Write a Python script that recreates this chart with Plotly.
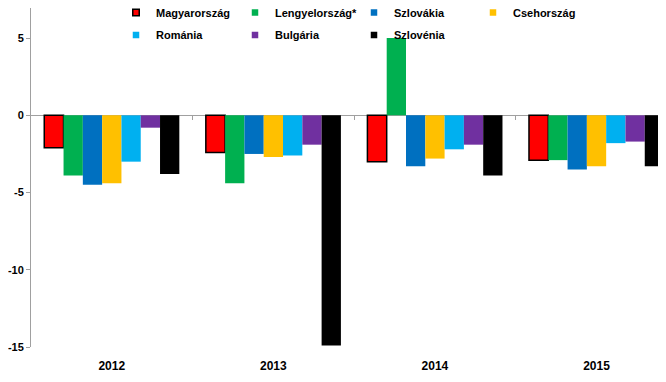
import plotly.graph_objects as go

years = ["2012", "2013", "2014", "2015"]
countries = ["Magyarország", "Lengyelország*", "Szlovákia", "Csehország",
             "Románia", "Bulgária", "Szlovénia"]
magyarorszag = [-2.1, -2.4, -3.0, -2.9]
lengyelorszag = [-3.9, -4.4, 5.0, -2.9]
szlovakia = [-4.5, -2.5, -3.3, -3.5]
csehorszag = [-4.4, -2.7, -2.8, -3.3]
romania = [-3.0, -2.6, -2.2, -1.8]
bulgaria = [-0.8, -1.9, -1.9, -1.7]
szlovenia = [-3.8, -14.9, -3.9, -3.3]
series = [magyarorszag, lengyelorszag, szlovakia, csehorszag, romania, bulgaria, szlovenia]
colors = ["#FF0000", "#00B050", "#0070C0", "#FFC000", "#00B0F0", "#7030A0", "#000000"]
y_tickvals = [-15, -10, -5, 0, 5]
y_ticktext = ["-15", "-10", "-5", "0", "5"]
y_range = [-15, 6.95]

FONT = "Liberation Sans"
# the page body adds an 8px margin, so the figure is sized to fill the rest of the window
W, H = 658, 374

fig = go.Figure()
for i, (name, vals, col) in enumerate(zip(countries, series, colors)):
    fig.add_trace(go.Bar(
        x=years, y=vals, name=name, marker_color=col,
        marker_line=dict(color="#000000" if i == 0 else col, width=1.5 if i == 0 else 0),
        showlegend=False,
    ))
    fig.add_trace(go.Scatter(
        x=[None], y=[None], mode="markers", name=name,
        marker=dict(symbol="square", size=6.5, color=col,
                    line=dict(color="#000000", width=1.5 if i == 0 else 0)),
        legend="legend" if i < 4 else "legend2",
    ))

zero_pos = (0 - y_range[0]) / (y_range[1] - y_range[0])

leg_common = dict(orientation="h", xref="container", xanchor="left", yref="container",
                  yanchor="middle", entrywidth=74, entrywidthmode="pixels",
                  bgcolor="rgba(0,0,0,0)", itemwidth=30,
                  font=dict(family=FONT, size=11, weight="bold"), tracegroupgap=0)

fig.update_layout(
    width=W, height=H,
    margin=dict(l=23, r=0, t=0, b=35, autoexpand=False),
    paper_bgcolor="white", plot_bgcolor="white",
    barmode="group", bargap=0.164, bargroupgap=0,
    font=dict(family=FONT, size=11, color="#000000", weight="bold"),
    xaxis=dict(range=[-0.5, 3.43], showline=False, ticks="", showgrid=False,
               tickfont=dict(family=FONT, size=12, weight="bold"), ticklabelstandoff=10),
    xaxis2=dict(overlaying="x", matches="x", anchor="free", position=zero_pos, side="bottom",
                range=[-0.5, 3.43], showline=False, showticklabels=False,
                tickmode="array", tickvals=[0.5, 1.5, 2.5, 3.5], ticks="outside",
                ticklen=4, tickcolor="#A0A0A0", tickwidth=1, showgrid=False),
    yaxis=dict(range=y_range, tickmode="array", tickvals=y_tickvals, ticktext=y_ticktext,
               showgrid=False, showline=True,
               linecolor="#A0A0A0", linewidth=1, ticks="outside", ticklen=4,
               tickcolor="#A0A0A0", zeroline=True, zerolinecolor="#A0A0A0", zerolinewidth=1,
               tickfont=dict(family=FONT, size=11, weight="bold")),
    legend=dict(x=108 / W, y=1 - 4.5 / H, **leg_common),
    legend2=dict(x=108 / W, y=1 - 27 / H, **leg_common),
)
# invisible trace to activate xaxis2 for category boundary ticks on the zero line
fig.add_trace(go.Scatter(x=years, y=[None] * 4, xaxis="x2", showlegend=False, hoverinfo="skip"))

fig.write_html("out.html")
